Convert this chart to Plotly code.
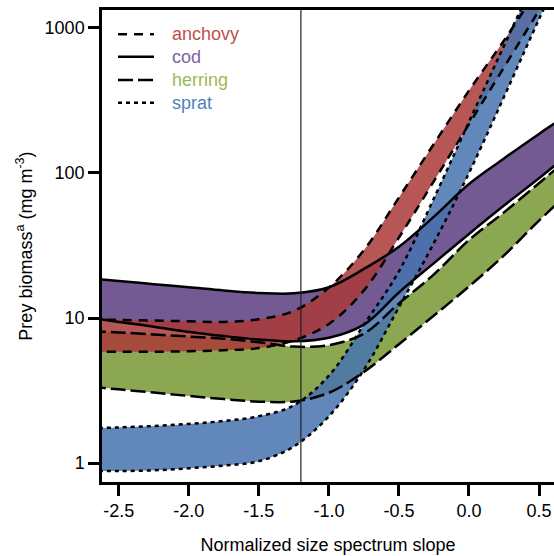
import plotly.graph_objects as go

# Normalized size spectrum slope (x) at which each bound was evaluated
slope = [-2.7, -2.5, -2.25, -2.0, -1.75, -1.5, -1.25, -1.0, -0.75, -0.5, -0.25, 0.0, 0.25, 0.5, 0.7]

# Upper / lower bounds of prey biomass (mg m^-3) for each predator
anchovy_hi = [9.8, 9.7, 9.6, 9.5, 9.4, 9.8, 11.2, 16.2, 29.4, 67.8, 159, 370, 820, 1900, 3700]
anchovy_lo = [5.85, 5.85, 5.85, 5.9, 6.0, 6.2, 7.0, 9.1, 15.5, 35.9, 88, 217, 535, 1320, 2700]
cod_hi = [18.7, 18.0, 17.1, 16.3, 15.5, 14.9, 14.8, 16.3, 21.8, 31, 50, 84, 126, 186, 250]
cod_lo = [10.0, 9.4, 8.7, 8.0, 7.5, 7.1, 6.9, 7.3, 9.0, 15.0, 23.9, 38, 59.6, 92, 132]
herring_hi = [8.1, 7.95, 7.7, 7.45, 7.2, 6.8, 6.35, 6.5, 7.8, 12.6, 20.0, 34.5, 53.5, 85, 124]
herring_lo = [3.35, 3.22, 3.06, 2.9, 2.76, 2.65, 2.66, 3.05, 4.25, 6.6, 10.4, 16.5, 27, 47, 71]
sprat_hi = [1.73, 1.76, 1.80, 1.86, 1.95, 2.1, 2.5, 4.0, 9.0, 21, 67, 225, 755, 2500, 6600]
sprat_lo = [0.88, 0.88, 0.89, 0.92, 0.96, 1.03, 1.30, 2.1, 4.4, 11.9, 33, 100, 335, 1150, 3000]

species = ["anchovy", "cod", "herring", "sprat"]
bounds = {
    "anchovy": (anchovy_lo, anchovy_hi),
    "cod": (cod_lo, cod_hi),
    "herring": (herring_lo, herring_hi),
    "sprat": (sprat_lo, sprat_hi),
}
fill_colors = {
    "anchovy": "rgba(170,58,55,0.85)",
    "cod": "rgba(90,61,127,0.85)",
    "herring": "rgba(120,152,52,0.85)",
    "sprat": "rgba(70,115,175,0.85)",
}
label_colors = {
    "anchovy": "#c0504d",
    "cod": "#8064a2",
    "herring": "#9bbb59",
    "sprat": "#4f81bd",
}
dashes = {
    "anchovy": "9px,7px",
    "cod": "solid",
    "herring": "15px,5px",
    "sprat": "4px,4px",
}
ref_slope = -1.2

FONT = "Liberation Sans, Arial, sans-serif"
LW = 2.5

fig = go.Figure()

# shaded ranges, drawn back to front
for sp in ["herring", "cod", "anchovy", "sprat"]:
    lo, hi = bounds[sp]
    fig.add_trace(go.Scatter(x=slope, y=lo, mode="lines", line=dict(width=0, shape="spline"),
                             showlegend=False, hoverinfo="skip"))
    fig.add_trace(go.Scatter(x=slope, y=hi, mode="lines", line=dict(width=0, shape="spline"),
                             fill="tonexty", fillcolor=fill_colors[sp],
                             showlegend=False, hoverinfo="skip"))

# bounding curves on top of all shading
for sp in species:
    for arr in bounds[sp]:
        fig.add_trace(go.Scatter(x=slope, y=arr, mode="lines",
                                 line=dict(color="black", width=LW, dash=dashes[sp], shape="spline"),
                                 showlegend=False, name=sp))

# reference slope
fig.add_shape(type="line", x0=ref_slope, x1=ref_slope, y0=0, y1=1, xref="x", yref="paper",
              line=dict(color="#222222", width=1.2), layer="above")

# key in the upper-left corner
row_y = [0.9485, 0.9011, 0.8517, 0.8036]
for sp, yy in zip(species, row_y):
    fig.add_shape(type="line", xref="paper", yref="paper", x0=0.0354, x1=0.1150, y0=yy, y1=yy,
                  line=dict(color="black", width=LW, dash=dashes[sp]), layer="above")
    fig.add_annotation(x=0.1504, y=yy, xref="paper", yref="paper", text=sp, showarrow=False,
                       xanchor="left", yanchor="middle",
                       font=dict(family=FONT, size=18, color=label_colors[sp]))

xticks = [-2.5, -2.0, -1.5, -1.0, -0.5, 0.0, 0.5]
yticks = [1, 10, 100, 1000]

fig.update_layout(
    width=554, height=556,
    margin=dict(l=102, r=0, t=10, b=74),
    paper_bgcolor="white", plot_bgcolor="white",
    font=dict(family=FONT, size=18, color="black"),
    showlegend=False,
    xaxis=dict(range=[-2.62, 0.607], tickvals=xticks, ticktext=[f"{v:.1f}" for v in xticks],
               ticks="outside", ticklen=11, tickwidth=LW, tickcolor="black",
               tickfont=dict(family=FONT, size=18),
               showline=True, linewidth=LW, linecolor="black", mirror=True,
               showgrid=False, zeroline=False,
               title=dict(text="Normalized size spectrum slope", standoff=19,
                          font=dict(family=FONT, size=18))),
    yaxis=dict(type="log", range=[-0.131, 3.124], tickvals=yticks, ticktext=[str(v) for v in yticks],
               ticks="outside", ticklen=11, tickwidth=LW, tickcolor="black",
               tickfont=dict(family=FONT, size=18),
               showline=True, linewidth=LW, linecolor="black", mirror=False,
               showgrid=False, zeroline=False,
               title=dict(text="Prey biomass<sup>a</sup> (mg m<sup>-3</sup>)", standoff=8,
                          font=dict(family=FONT, size=18))),
)

fig.write_html("out.html")
